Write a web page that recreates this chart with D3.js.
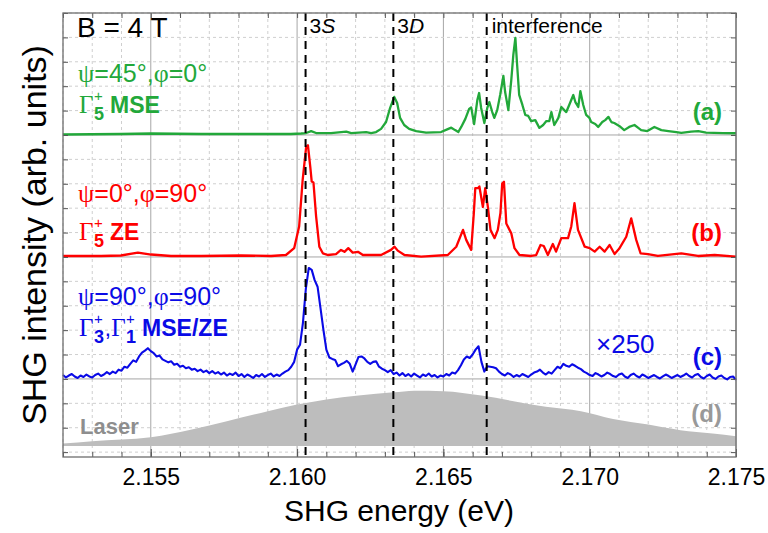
<!DOCTYPE html>
<html><head><meta charset="utf-8">
<script src="https://cdn.jsdelivr.net/npm/d3@7"></script>
<style>body{margin:0;background:#fff}svg{display:block}</style>
</head><body><svg id="c" width="768" height="533"></svg>
<script>
// ---------- data ----------
const xTickValues = [2.155, 2.160, 2.165, 2.170, 2.175];
const xTickLabels = ["2.155", "2.160", "2.165", "2.170", "2.175"];
const lineEnergies = [2.16029, 2.16329, 2.16648];   // 3S, 3D, interference
const lineLabels = ["3S", "3D", "interference"];
const offsets = [13, 8, 3, 0.25];                    // (a),(b),(c),(d)

const greenE = [2.1520,2.15398,2.15501,2.15672,2.15843,2.15979,2.16014,2.16031,2.16048,2.16065,2.16116,2.16168,2.16185,2.16236,2.16253,2.16270,2.16287,2.16304,2.16318,2.16332,2.16342,2.16352,2.16366,2.16383,2.16407,2.16441,2.16492,2.16513,2.16527,2.16540,2.16551,2.16561,2.16575,2.16588,2.16595,2.16605,2.16616,2.16622,2.16629,2.16640,2.16650,2.16657,2.16667,2.16674,2.16684,2.16694,2.16705,2.16711,2.16722,2.16732,2.16739,2.16746,2.16752,2.16759,2.16770,2.16780,2.16790,2.16800,2.16814,2.16828,2.16841,2.16852,2.16862,2.16869,2.16879,2.16893,2.16903,2.16913,2.16920,2.16930,2.16944,2.16951,2.16961,2.16968,2.16978,2.16988,2.16999,2.17005,2.17019,2.17029,2.17043,2.17053,2.17064,2.17074,2.17084,2.17101,2.17118,2.17135,2.17153,2.17166,2.17176,2.17197,2.17221,2.17245,2.17269,2.17296,2.17313,2.17347,2.17371,2.17398,2.17425,2.17456,2.1750];
const greenI = [0.02,0.04,0.06,0.04,0.04,0.04,0.06,0.08,0.16,0.08,0.08,0.14,0.08,0.12,0.08,0.12,0.25,0.53,1.11,1.56,1.31,0.70,0.41,0.25,0.16,0.10,0.12,0.23,0.30,0.20,0.12,0.33,0.66,1.07,1.13,0.45,1.43,1.72,1.11,0.49,1.11,1.35,0.94,0.70,1.02,1.64,2.42,1.76,1.02,2.25,3.28,3.98,2.87,1.64,1.23,0.82,0.78,0.57,0.61,0.29,0.41,0.57,0.57,0.94,0.41,0.70,1.15,1.02,0.94,1.23,1.64,1.35,1.15,1.80,1.23,0.82,0.70,0.53,0.45,0.33,0.53,0.61,0.74,0.53,0.49,0.37,0.20,0.33,0.41,0.29,0.20,0.16,0.33,0.20,0.16,0.12,0.09,0.14,0.16,0.10,0.09,0.08,0.07];

const redE = [2.1520,2.15330,2.15398,2.15456,2.15501,2.15569,2.15672,2.15808,2.15911,2.15962,2.15990,2.16007,2.16019,2.16031,2.16037,2.16045,2.16050,2.16056,2.16065,2.16076,2.16088,2.16105,2.16133,2.16150,2.16162,2.16175,2.16190,2.16208,2.16225,2.16287,2.16321,2.16333,2.16344,2.16367,2.16424,2.16515,2.16544,2.16567,2.16578,2.16595,2.16604,2.16609,2.16618,2.16623,2.16635,2.16643,2.16652,2.16661,2.16675,2.16686,2.16695,2.16701,2.16707,2.16715,2.16726,2.16732,2.16743,2.16760,2.16800,2.16817,2.16832,2.16843,2.16857,2.16874,2.16885,2.16903,2.16926,2.16937,2.16948,2.16960,2.16983,2.17000,2.17017,2.17034,2.17051,2.17068,2.17085,2.17102,2.17125,2.17142,2.17159,2.17174,2.17199,2.17233,2.17313,2.17370,2.17427,2.1750];
const redI = [0.04,0.04,0.06,0.18,0.10,0.04,0.04,0.06,0.04,0.08,0.36,1.25,3.15,4.51,4.58,3.70,3.09,3.05,1.66,0.42,0.15,0.08,0.12,0.29,0.21,0.36,0.18,0.21,0.08,0.08,0.29,0.42,0.26,0.08,0.01,0.08,0.42,1.11,0.70,0.29,1.80,2.82,2.82,2.89,2.05,2.82,2.05,1.11,0.77,1.11,1.80,3.01,3.08,1.37,1.11,0.97,0.36,0.08,0.04,0.08,0.49,0.45,0.08,0.53,0.22,0.77,0.77,1.25,2.21,1.11,0.42,0.36,0.22,0.42,0.22,0.49,0.12,0.36,0.83,1.58,0.70,0.15,0.12,0.04,0.15,0.04,0.08,0.01];

const blueE = [2.1520,2.1521,2.1522,2.1523,2.1524,2.1525,2.1526,2.1527,2.1528,2.1529,2.1530,2.1531,2.1532,2.1533,2.1534,2.1535,2.1536,2.1537,2.1538,2.1539,2.1540,2.1541,2.1542,2.1543,2.1544,2.1545,2.1546,2.1547,2.1548,2.1549,2.1550,2.1551,2.1552,2.1553,2.1554,2.1555,2.1556,2.1557,2.1558,2.1559,2.1560,2.1561,2.1562,2.1563,2.1564,2.1565,2.1566,2.1567,2.1568,2.1569,2.1570,2.1571,2.1572,2.1573,2.1574,2.1575,2.1576,2.1577,2.1578,2.1579,2.1580,2.1581,2.1582,2.1583,2.1584,2.1585,2.1586,2.1587,2.1588,2.1589,2.1590,2.1591,2.1592,2.1593,2.1594,2.1595,2.1596,2.1597,2.1598,2.1599,
  2.1600,2.1601,2.1602,2.1603,2.1604,2.1605,2.1606,2.1607,2.1608,2.1609,2.1610,2.1611,2.1612,2.1613,2.1614,2.1615,2.1616,2.1617,2.1618,2.1619,2.1620,2.1621,2.1622,2.1623,2.1624,2.1625,2.1626,2.1627,2.1628,2.1629,
  2.1630,2.1631,2.1632,2.1633,2.1634,2.1635,2.1636,2.1637,2.1638,2.1639,2.1640,2.1641,2.1642,2.1643,2.1644,2.1645,2.1646,2.1647,2.1648,2.1649,2.1650,2.1651,2.1652,2.1653,2.1654,2.1655,2.1656,2.1657,2.1658,2.1659,2.1660,2.1661,2.1662,2.1663,2.1664,2.1665,2.1666,2.1667,2.1668,2.1669,
  2.1670,2.1671,2.1672,2.1673,2.1674,2.1675,2.1676,2.1677,2.1678,2.1679,2.1680,2.1681,2.1682,2.1683,2.1684,2.1685,2.1686,2.1687,2.1688,2.1689,2.1690,2.1691,2.1692,2.1693,2.1694,2.1695,2.1696,2.1697,2.1698,2.1699,
  2.1700,2.1701,2.1702,2.1703,2.1704,2.1705,2.1706,2.1707,2.1708,2.1709,2.1710,2.1711,2.1712,2.1713,2.1714,2.1715,2.1716,2.1717,2.1718,2.1719,2.1720,2.1721,2.1722,2.1723,2.1724,2.1725,2.1726,2.1727,2.1728,2.1729,
  2.1730,2.1731,2.1732,2.1733,2.1734,2.1735,2.1736,2.1737,2.1738,2.1739,2.1740,2.1741,2.1742,2.1743,2.1744,2.1745,2.1746,2.1747,2.1748,2.1749,2.1750];
const blueI = [0.16,0.06,0.14,0.20,0.10,0.04,0.14,0.08,0.18,0.10,0.06,0.16,0.22,0.12,0.18,0.28,0.20,0.30,0.24,0.38,0.34,0.50,0.46,0.62,0.76,0.70,0.92,1.08,1.16,1.26,1.14,1.06,0.92,0.96,0.80,0.74,0.68,0.72,0.58,0.62,0.50,0.54,0.44,0.48,0.38,0.42,0.32,0.38,0.28,0.34,0.24,0.32,0.22,0.28,0.18,0.26,0.14,0.22,0.16,0.26,0.12,0.20,0.08,0.18,0.12,0.04,0.16,0.10,0.20,0.08,0.16,0.22,0.10,0.18,0.12,0.22,0.30,0.36,0.50,0.70,
  1.20,1.40,2.30,3.70,4.55,4.47,4.05,3.78,2.90,2.01,1.20,0.88,0.82,0.78,0.52,0.60,0.66,0.74,0.62,0.30,0.60,0.90,0.92,0.84,0.70,0.62,0.70,0.72,0.50,0.42,
  0.36,0.28,0.36,0.20,0.26,0.14,0.24,0.12,0.20,0.10,0.22,0.14,0.06,0.18,0.12,0.22,0.10,0.16,0.06,0.14,0.10,0.20,0.14,0.26,0.22,0.36,0.56,0.80,0.92,0.86,1.00,1.20,1.34,0.70,0.30,0.52,0.50,0.48,0.44,0.30,
  0.20,0.14,0.24,0.18,0.08,0.16,0.10,0.20,0.14,0.08,0.18,0.26,0.30,0.38,0.26,0.18,0.28,0.22,0.36,0.50,0.44,0.62,0.54,0.50,0.60,0.54,0.46,0.40,0.30,0.24,
  0.16,0.12,0.24,0.18,0.10,0.16,0.26,0.20,0.12,0.08,0.18,0.22,0.10,0.04,0.16,0.22,0.12,0.06,0.18,0.12,0.04,0.10,0.16,0.08,0.02,0.10,0.18,0.12,0.04,0.10,
  0.16,0.08,0.14,0.22,0.12,0.06,0.16,0.20,0.08,0.02,0.12,0.18,0.06,0.00,0.10,0.14,0.04,-0.02,0.08,0.10,-0.04];

const laserE = [2.1520,2.1530,2.1550,2.1564,2.1576,2.1590,2.1600,2.1610,2.1621,2.1633,2.1640,2.1650,2.1663,2.1674,2.1685,2.1697,2.1708,2.1720,2.1731,2.1742,2.1750];
const laserI = [0.10,0.20,0.36,0.68,1.02,1.43,1.70,1.91,2.07,2.20,2.27,2.25,2.07,1.84,1.61,1.43,1.11,0.88,0.65,0.51,0.40];

// ---------- setup ----------
const sans = "'Liberation Sans', Arial, Helvetica, sans-serif";
const serif = "'Liberation Serif', 'Times New Roman', serif";
const GREEN = "#22a83a", RED = "#ff0000", BLUE = "#0a0ae6", GREYTXT = "#8e8e8e";
const L = 63, R = 736, T = 13, B = 457;
const svg = d3.select("#c");
const x = d3.scaleLinear().domain([2.152, 2.175]).range([L, R]);
const y = d3.scaleLinear().domain([-0.2, 18]).range([B, T]);

const xMinor = d3.range(0, 24).map(i => +(2.152 + i * 0.001).toFixed(3));
const yMinor = d3.range(0, 19);
const isMajorX = v => xTickValues.some(m => Math.abs(m - v) < 1e-7);

// grid
const grid = svg.append("g");
xMinor.forEach(v => {
  const maj = isMajorX(v);
  grid.append("line").attr("x1", x(v)).attr("x2", x(v)).attr("y1", T).attr("y2", B)
    .attr("stroke", maj ? "#a6a6a6" : "#cfcfcf").attr("stroke-width", 1)
    .attr("stroke-dasharray", maj ? null : "3,3");
});
yMinor.forEach(v => {
  const maj = offsets.slice(0, 3).includes(v);
  grid.append("line").attr("x1", L).attr("x2", R).attr("y1", y(v)).attr("y2", y(v))
    .attr("stroke", maj ? "#a6a6a6" : "#cfcfcf").attr("stroke-width", 1)
    .attr("stroke-dasharray", maj ? null : "3,3");
});

// laser area
const laserData = laserE.map((e, i) => [e, laserI[i]]);
svg.append("path").datum(laserData)
  .attr("d", d3.area().curve(d3.curveMonotoneX).x(d => x(d[0])).y0(y(offsets[3])).y1(d => y(offsets[3] + d[1])))
  .attr("fill", "#bdbdbd");

// traces
const line = d3.line().curve(d3.curveLinear);
function trace(E, I, off, color, w) {
  const pts = E.map((e, i) => [x(e), y(off + I[i])]);
  svg.append("path").attr("d", line(pts)).attr("fill", "none").attr("stroke", color)
    .attr("stroke-width", w).attr("stroke-linejoin", "round");
}
trace(greenE, greenI, offsets[0], GREEN, 2.3);
trace(redE, redI, offsets[1], RED, 2.3);
trace(blueE, blueI, offsets[2], BLUE, 2.1);

// dashed resonance lines
lineEnergies.forEach(e => {
  svg.append("line").attr("x1", x(e)).attr("x2", x(e)).attr("y1", T).attr("y2", B)
    .attr("stroke", "#000").attr("stroke-width", 2).attr("stroke-dasharray", "8,6");
});

// axes (inward ticks)
function styleAxis(g) { g.select(".domain").remove(); g.selectAll("line").attr("stroke", "#555"); }
svg.append("g").attr("transform", `translate(0,${B})`)
  .call(d3.axisBottom(x).tickValues(xMinor).tickSize(-5).tickFormat("")).call(styleAxis);
svg.append("g").attr("transform", `translate(0,${T})`)
  .call(d3.axisTop(x).tickValues(xMinor).tickSize(-5).tickFormat("")).call(styleAxis);
svg.append("g").attr("transform", `translate(${L},0)`)
  .call(d3.axisLeft(y).tickValues(yMinor).tickSize(-5).tickFormat("")).call(styleAxis);
svg.append("g").attr("transform", `translate(${R},0)`)
  .call(d3.axisRight(y).tickValues(yMinor).tickSize(-5).tickFormat("")).call(styleAxis);
const xl = svg.append("g").attr("transform", `translate(0,${B})`)
  .call(d3.axisBottom(x).tickValues(xTickValues).tickSize(-8).tickPadding(12)
    .tickFormat((d, i) => xTickLabels[i]));
xl.select(".domain").remove();
xl.selectAll("line").attr("stroke", "#555");
xl.selectAll("text").attr("font-family", sans).attr("font-size", 23).attr("fill", "#000");

// frame
svg.append("rect").attr("x", L).attr("y", T).attr("width", R - L).attr("height", B - T)
  .attr("fill", "none").attr("stroke", "#6e6e6e").attr("stroke-width", 1.3);

// ---------- texts ----------
function txt(xp, yp, s, o = {}) {
  return svg.append("text").attr("x", xp).attr("y", yp).text(s)
    .attr("font-family", o.ff || sans).attr("font-size", o.fs || 24)
    .attr("font-weight", o.fw || null).attr("font-style", o.it ? "italic" : null)
    .attr("fill", o.c || "#000").attr("text-anchor", o.a || "start");
}
function rich(xp, yp, color, parts) {
  const t = svg.append("text").attr("x", xp).attr("y", yp).attr("fill", color);
  parts.forEach(p => t.append("tspan").text(p.t).attr("font-family", p.ff || sans)
    .attr("font-size", p.fs || 25).attr("font-weight", p.fw || null).attr("font-style", p.it ? "italic" : null));
  return t;
}
function gamma(xp, yp, color, sub) {
  const G = txt(xp, yp, "Γ", { ff: serif, fs: 25, c: color });
  const w = G.node().getComputedTextLength();
  txt(xp + w + 0.5, yp - 12, "+", { fs: 15, c: color });
  const s = txt(xp + w + 0.5, yp + 7, sub, { fs: 18, fw: "bold", c: color });
  return xp + w + 0.5 + s.node().getComputedTextLength();
}

txt(77, 37, "B = 4 T", { fs: 28 });
// top line labels
rich(x(lineEnergies[0]) + 4, 33, "#000", [{ t: "3", fs: 21 }, { t: "S", fs: 21, it: true }]);
rich(x(lineEnergies[1]) + 4, 33, "#000", [{ t: "3", fs: 21 }, { t: "D", fs: 21, it: true }]);
txt(x(lineEnergies[2]) + 5, 33, lineLabels[2], { fs: 21 });

// (a)
rich(78, 82, GREEN, [{ t: "ψ", ff: serif, fs: 26 }, { t: "=45°," }, { t: "φ", ff: serif, fs: 26 }, { t: "=0°" }]);
let gx = gamma(79, 113, GREEN, "5");
txt(gx + 6, 113, "MSE", { fs: 23, fw: "bold", c: GREEN });
txt(722, 120, "(a)", { fs: 24, fw: "bold", c: GREEN, a: "end" });

// (b)
rich(78, 202, RED, [{ t: "ψ", ff: serif, fs: 26 }, { t: "=0°," }, { t: "φ", ff: serif, fs: 26 }, { t: "=90°" }]);
gx = gamma(79, 240, RED, "5");
txt(gx + 6, 240, "ZE", { fs: 23, fw: "bold", c: RED });
txt(722, 241, "(b)", { fs: 24, fw: "bold", c: RED, a: "end" });

// (c)
rich(78, 305, BLUE, [{ t: "ψ", ff: serif, fs: 26 }, { t: "=90°," }, { t: "φ", ff: serif, fs: 26 }, { t: "=90°" }]);
gx = gamma(79, 336, BLUE, "3");
const cm = txt(gx + 0.5, 336, ",", { fs: 24, c: BLUE });
gx = gamma(gx + 0.5 + cm.node().getComputedTextLength(), 336, BLUE, "1");
txt(gx + 6, 336, "MSE/ZE", { fs: 23, fw: "bold", c: BLUE });
txt(596, 353, "×250", { fs: 26, c: BLUE });
txt(722, 365, "(c)", { fs: 24, fw: "bold", c: BLUE, a: "end" });

// (d)
txt(80, 434, "Laser", { fs: 22, fw: "bold", c: GREYTXT });
txt(722, 422, "(d)", { fs: 24, fw: "bold", c: "#999", a: "end" });

// axis titles
txt(399, 521, "SHG energy (eV)", { fs: 30, a: "middle" });
svg.append("text").attr("transform", "translate(46,235) rotate(-90)").attr("text-anchor", "middle")
  .attr("font-family", sans).attr("font-size", 34).attr("fill", "#000").text("SHG intensity (arb. units)");
</script></body></html>
